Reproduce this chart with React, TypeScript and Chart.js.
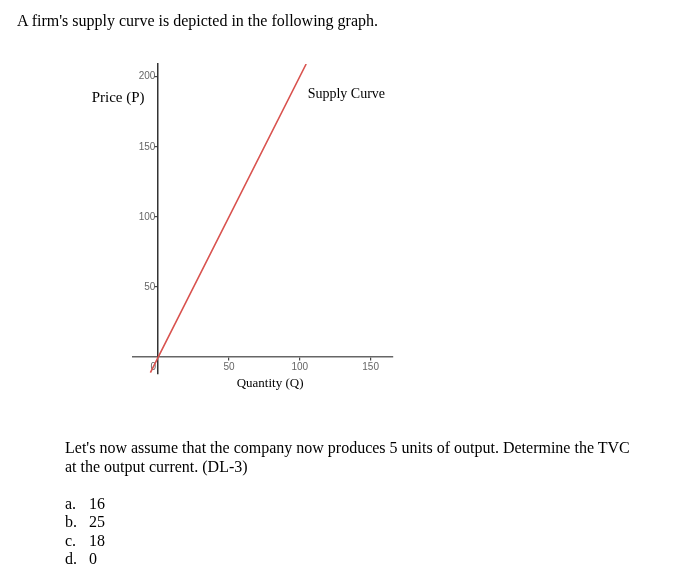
import React, { useEffect, useRef } from "react";
import { Chart, registerables } from "chart.js";

Chart.register(...registerables);

// ---- data ----
const supplyQ = [-5.5, 0, 104.5];
const supplyP = [-11, 0, 209];
const xTickValues = [50, 100, 150];
const originTick = [0];
const yTickValues = [50, 100, 150, 200];
const xRange = [-18, 165.6];
const yRange = [-12, 209];

const titleText = "A firm's supply curve is depicted in the following graph.";
const yAxisTitle = "Price (P)";
const xAxisTitle = "Quantity (Q)";
const seriesLabel = "Supply Curve";
const questionLines = [
  "Let's now assume that the company now produces 5 units of output. Determine the TVC",
  "at the output current. (DL-3)",
];
const optionLetters = ["a.", "b.", "c.", "d."];
const optionValues = ["16", "25", "18", "0"];

const serif = '"Liberation Serif", "Times New Roman", serif';
const tickFont = { family: '"Liberation Sans", Arial, sans-serif', size: 10 };

const abs = (left: number, top: number, size: number, lh: number): React.CSSProperties => ({
  position: "absolute",
  left,
  top,
  fontFamily: serif,
  fontSize: size,
  lineHeight: `${lh}px`,
  color: "#000",
  whiteSpace: "nowrap",
  margin: 0,
});

const setTicks = (values: number[]) => (scale: any) => {
  scale.ticks = values.map((v) => ({ value: v }));
};

export default function App() {
  const ref = useRef<HTMLCanvasElement | null>(null);

  useEffect(() => {
    if (!ref.current) return;
    const xBase = { type: "linear", min: xRange[0], max: xRange[1] };
    const yBase = { type: "linear", min: yRange[0], max: yRange[1] };
    const chart = new Chart(ref.current, {
      type: "scatter",
      data: {
        datasets: [
          {
            label: seriesLabel,
            data: supplyQ.map((q, i) => ({ x: q, y: supplyP[i] })),
            xAxisID: "x",
            yAxisID: "y",
            showLine: true,
            borderColor: "#d9534f",
            borderWidth: 1.6,
            pointRadius: 0,
            fill: false,
          },
        ],
      },
      options: {
        animation: false,
        responsive: false,
        maintainAspectRatio: false,
        layout: { padding: { left: 132.7, right: 294.3, top: 64, bottom: 201 } },
        plugins: { legend: { display: false }, tooltip: { enabled: false } },
        scales: {
          x: {
            ...xBase,
            position: { y: 0 } as any,
            afterBuildTicks: setTicks(xTickValues),
            grid: { display: true, drawOnChartArea: false, drawTicks: true, tickLength: 3, color: "#444", lineWidth: 1.2 },
            border: { display: true, color: "#666", width: 1.5 },
            ticks: { padding: 1, color: "#666", font: tickFont, maxRotation: 0, autoSkip: false },
          },
          xOrigin: {
            ...xBase,
            axis: "x",
            position: { y: 0 } as any,
            afterBuildTicks: setTicks(originTick),
            grid: { display: false, drawTicks: false },
            border: { display: false },
            ticks: { padding: 4, labelOffset: -5, color: "#666", font: tickFont, maxRotation: 0, autoSkip: false },
          },
          y: {
            ...yBase,
            position: { x: 0 } as any,
            afterBuildTicks: setTicks(yTickValues),
            grid: { display: true, drawOnChartArea: false, drawTicks: true, tickLength: 3, color: "#444", lineWidth: 1.2 },
            border: { display: true, color: "#333", width: 1.5 },
            ticks: { display: false },
          },
          yLabels: {
            ...yBase,
            axis: "y",
            position: { x: -2.0 } as any,
            afterBuildTicks: setTicks(yTickValues),
            grid: { display: false, drawTicks: false },
            border: { display: false },
            ticks: { color: "#666", font: tickFont, autoSkip: false },
          },
        } as any,
      },
    } as any);
    return () => chart.destroy();
  }, []);

  return (
    <div style={{ position: "absolute", left: 0, top: 0, width: 687, height: 575, background: "#fff", overflow: "hidden" }}>
      <canvas ref={ref} width={687} height={575} style={{ position: "absolute", left: 0, top: 0, width: 687, height: 575 }} />
      <div style={abs(17, 12, 16, 18)}>{titleText}</div>
      <div style={abs(91.7, 89.1, 15, 17)}>{yAxisTitle}</div>
      <div style={abs(307.7, 85.6, 14, 16)}>{seriesLabel}</div>
      <div style={abs(236.7, 374.8, 13, 15)}>{xAxisTitle}</div>
      {questionLines.map((t, i) => (
        <div key={t} style={abs(65, 439.1 + i * 18.5, 16, 18)}>{t}</div>
      ))}
      {optionLetters.map((l, i) => (
        <React.Fragment key={l}>
          <div style={abs(65, 494.6 + i * 18.5, 16, 18)}>{l}</div>
          <div style={abs(89, 494.6 + i * 18.5, 16, 18)}>{optionValues[i]}</div>
        </React.Fragment>
      ))}
    </div>
  );
}
